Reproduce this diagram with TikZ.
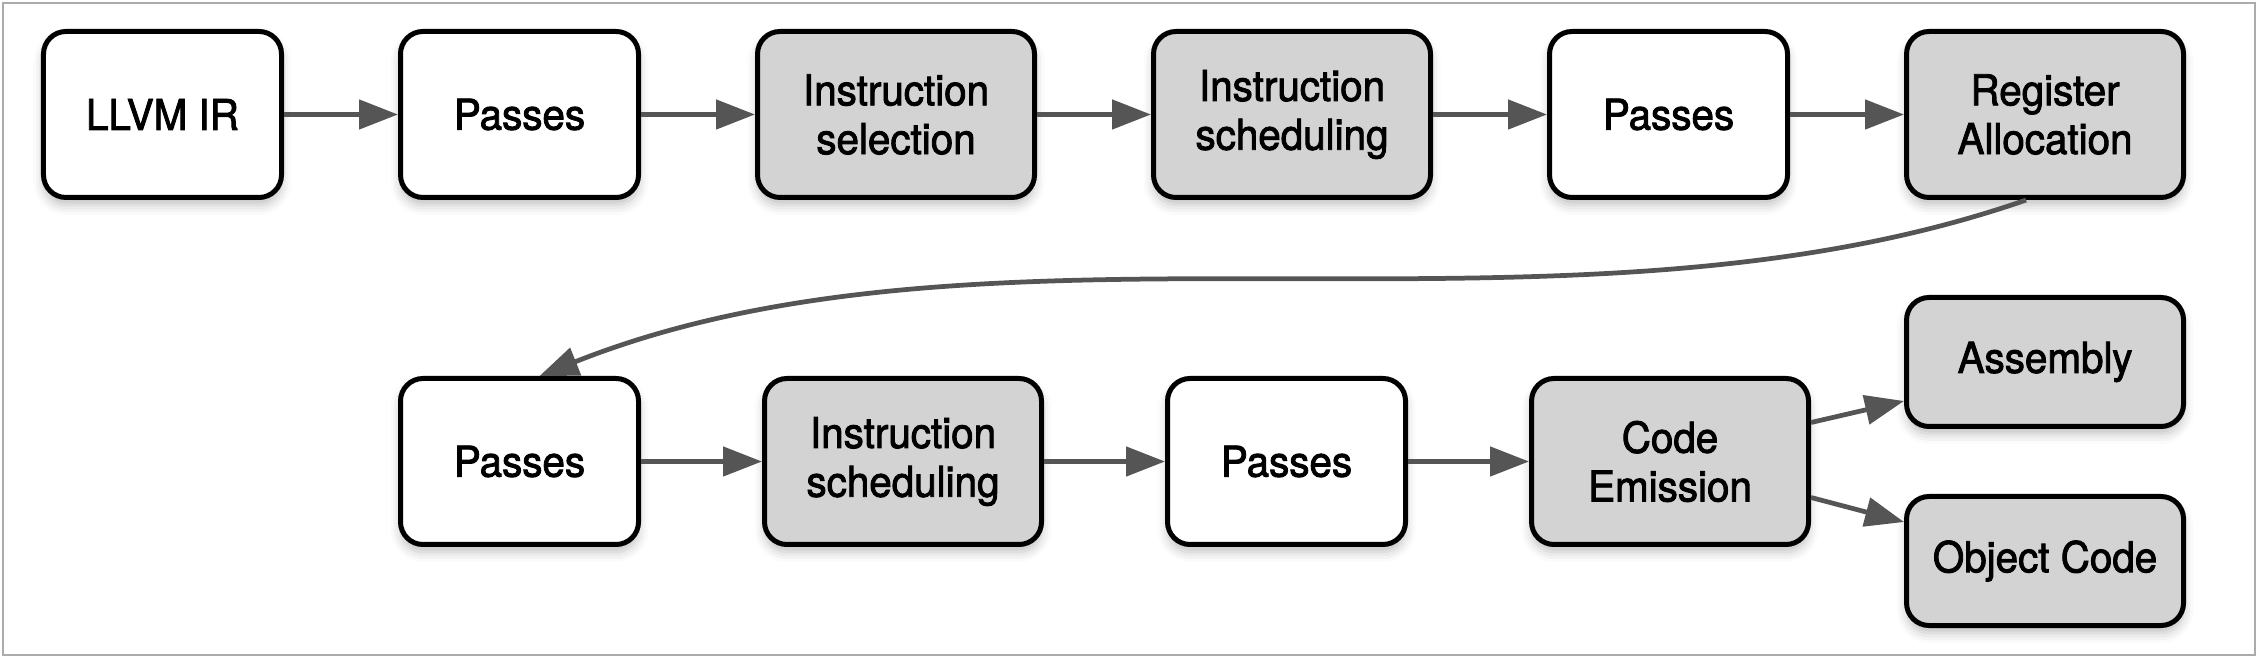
\documentclass[tikz,border=0pt]{standalone}
\usepackage{fontspec}
\newfontfamily\boxfont[FakeStretch=0.95,FakeBold=2]{TeX Gyre Heros}
\usepackage{tikz}
\usetikzlibrary{positioning, arrows.meta, shadows.blur}
\definecolor{boxgray}{HTML}{D3D3D3}
\definecolor{linkgray}{HTML}{555555}
\definecolor{framegray}{HTML}{ABABAB}

\begin{document}
\begin{tikzpicture}[x=0.4pt, y=0.4pt,
                  node distance=70.4pt and 45.6pt,
                  passbox/.style={rectangle,rounded corners=9pt,draw=black,fill=white,line width=2pt,
                    minimum width=95.2pt,minimum height=66.4pt,align=center,
                    font=\boxfont\fontsize{17}{19.5}\selectfont,
                    blur shadow={shadow xshift=0pt,shadow yshift=-3pt,shadow blur radius=4pt,shadow opacity=25}},
                  stagebox/.style={passbox,fill=boxgray,minimum width=110.8pt},
                  outbox/.style={stagebox,minimum height=51.6pt},
                  pre/.style={<-,draw=linkgray,line width=1.9pt,>={Triangle[length=15.6pt,width=11.6pt]}},
                  post/.style={->,draw=linkgray,line width=1.9pt,>={Triangle[length=15.6pt,width=11.6pt]}}
                  ]
                  \useasboundingbox (0,0) rectangle (2258,658);
                  \draw[framegray, line width=0.6pt] (3,3) rectangle (2255,655);

                  % first row
                  \node[passbox] (ir) at (162.5,543.5) {LLVM IR};
                  \node[passbox] (pass1) [right=of ir] {Passes}
                  edge [pre] (ir);
                  \node[stagebox] (isel) [right=of pass1] {Instruction\\selection}
                  edge [pre] (pass1);
                  \node[stagebox] (isched1) [right=of isel] {Instruction\\scheduling}
                  edge [pre] (isel);
                  \node[passbox] (pass2) [right=of isched1] {Passes}
                  edge [pre] (isched1);
                  \node[stagebox] (regalloc) [right=of pass2] {Register\\Allocation}
                  edge [pre] (pass2);

                  % second row
                  \node[passbox] (pass3) [below=of pass1] {Passes};
                  \node[stagebox] (isched2) [right=48.4pt of pass3] {Instruction\\scheduling}
                  edge [pre] (pass3);
                  \node[passbox] (pass4) [right=48.4pt of isched2] {Passes}
                  edge [pre] (isched2);
                  \node[stagebox] (emit) [right=48.4pt of pass4] {Code\\Emission}
                  edge [pre] (pass4);

                  \node[outbox] (asm) [below=38pt of regalloc] {Assembly};
                  \node[outbox] (obj) [below=26pt of asm] {Object Code};

                  \draw[post] ([xshift=-7.6pt]regalloc.south) .. controls +(-462,-161) and +(455,181) .. ([xshift=8pt]pass3.north);
                  \draw[post] ([yshift=15.6pt]emit.east) -- ([yshift=-15.6pt]asm.west);
                  \draw[post] ([yshift=-14.4pt]emit.east) -- ([yshift=15.6pt]obj.west);
                \end{tikzpicture}
\end{document}
